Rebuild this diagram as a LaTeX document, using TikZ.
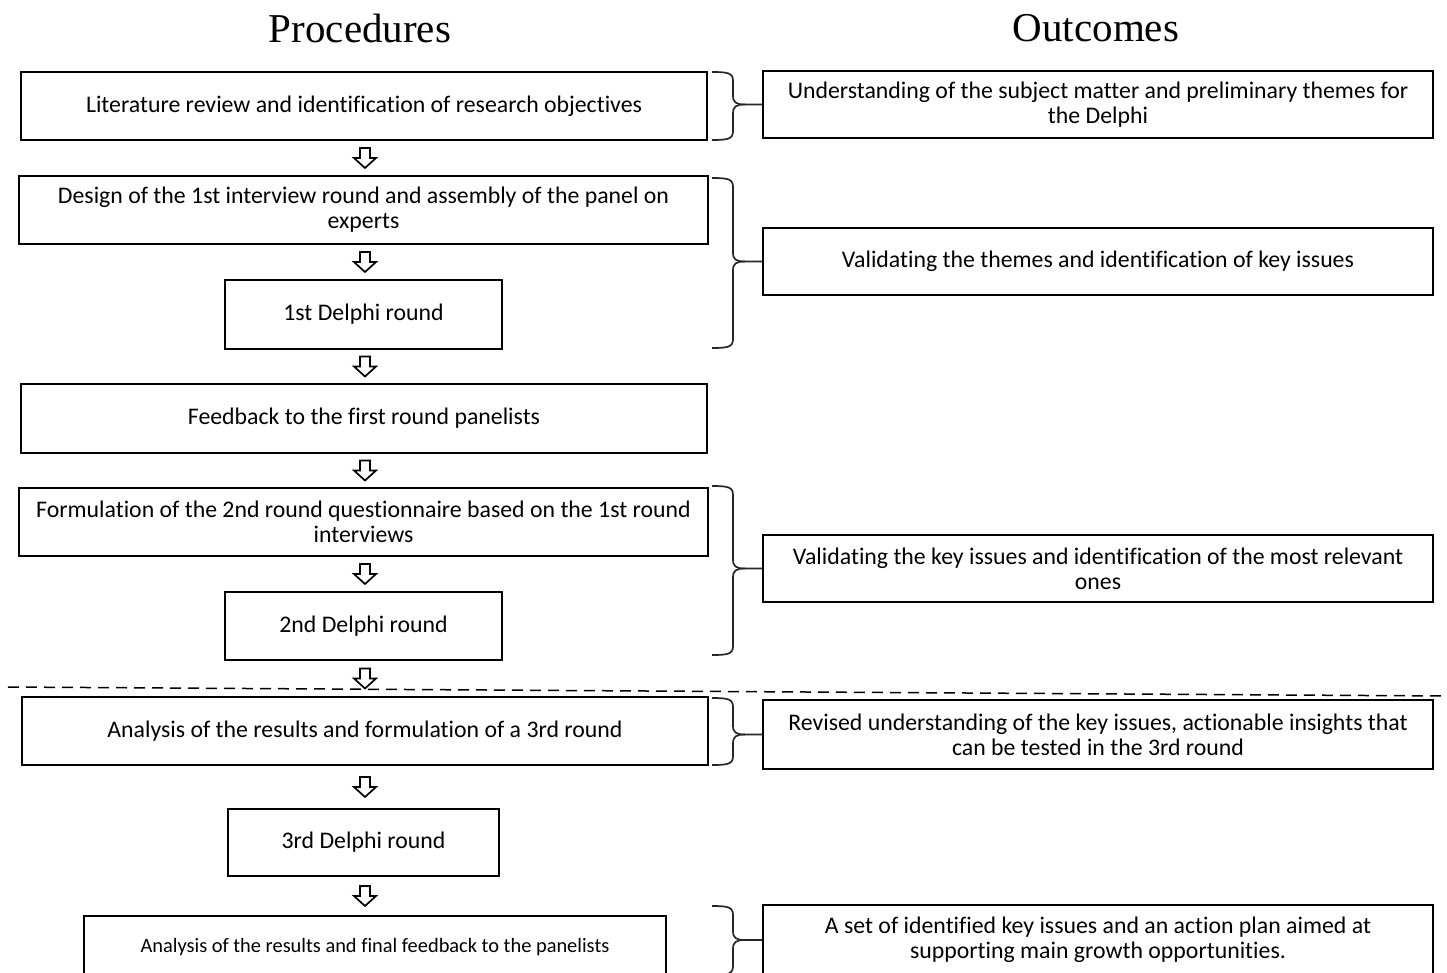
\documentclass[tikz,border=0pt]{standalone}
\usepackage{fontspec}
\setmainfont{Carlito}[Ligatures={NoCommon}]
\newfontfamily\titlefont{Liberation Serif}
\usetikzlibrary{calc}
\begin{document}
\begin{tikzpicture}[x=1pt,y=-1pt,
  box/.style={draw, line width=1.8pt, align=center, inner sep=0pt,
    font=\fontsize{23.8}{25}\selectfont},
  obox/.style={box, minimum width=670pt, minimum height=67pt},
  ttl/.style={font=\titlefont\fontsize{41}{44}\selectfont},
  brc/.style={line width=1.7pt, black!85},
  harrow/.pic={\draw[line width=1.7pt, line join=miter]
     (-5,-10) -- (5,-10) -- (5,0) -- (11,0) -- (0,10) -- (-11,0) -- (-5,0) -- cycle;}
]
\useasboundingbox (0,0) rectangle (1447,972);

\node[ttl] (tp) at (360,28) {Procedures};
\node[ttl] (to) at (1096,28) {Outcomes};

\node[box, minimum width=686pt, minimum height=68pt] (b1) at (364,106) {Literature review and identification of research objectives};
\node[box, minimum width=689pt, minimum height=68pt] (b2) at (363.5,210) {Design of the 1st interview round and assembly of the panel on\\experts};
\node[box, minimum width=277pt, minimum height=69pt] (b3) at (363.5,314.5) {1st Delphi round};
\node[box, minimum width=686pt, minimum height=69pt] (b4) at (364,418.5) {Feedback to the first round panelists};
\node[box, minimum width=689pt, minimum height=68pt] (b5) at (363.5,522) {Formulation of the 2nd round questionnaire based on the 1st round\\interviews};
\node[box, minimum width=277pt, minimum height=68pt] (b6) at (363.5,626) {2nd Delphi round};
\node[box, minimum width=686pt, minimum height=68pt] (b7) at (365,731) {Analysis of the results and formulation of a 3rd round};
\node[box, minimum width=271pt, minimum height=67pt] (b8) at (363.5,842.5) {3rd Delphi round};
\node[box, minimum width=582pt, minimum height=62pt, font=\fontsize{20.4}{22}\selectfont] (b9) at (375,947) {\raisebox{4pt}{Analysis of the results and final feedback to the panelists}};

\node[obox] (r1) at (1098,104.5) {Understanding of the subject matter and preliminary themes for\\the Delphi};
\node[obox] (r2) at (1098,261.5) {Validating the themes and identification of key issues};
\node[obox] (r3) at (1098,568.5) {Validating the key issues and identification of the most relevant\\ones};
\node[obox, minimum height=69pt] (r4) at (1098,734.5) {Revised understanding of the key issues, actionable insights that\\can be tested in the 3rd round};
\node[obox, minimum height=70pt] (r5) at (1098,940) {A set of identified key issues and an action plan aimed at\\supporting main growth opportunities.};

\coordinate (ax) at (365,0);
\foreach \u/\l in {b1/b2,b2/b3,b3/b4,b4/b5,b5/b6,b6/b7,b7/b8,b8/b9}{
  \path ($(\u.south)!0.5!(\l.north)$) coordinate (m-\u);
  \pic at (ax |- m-\u) {harrow};
}

\newcommand{\mybrace}[4]{%
  \draw[brc] (712,#1) .. controls (728,#1) and (733,#1+1) .. (733,#1+9)
    -- (733,#3-9) .. controls (733,#3-2) and (736,#3) .. (745,#3)
    -- (#4.west);
  \draw[brc] (745,#3) .. controls (736,#3) and (733,#3+2) .. (733,#3+9)
    -- (733,#2-9) .. controls (733,#2-1) and (728,#2) .. (712,#2);
}
\mybrace{72}{140}{104.5}{r1}
\mybrace{178}{348}{261.5}{r2}
\mybrace{486}{655}{568.5}{r3}
\mybrace{698}{765}{734.5}{r4}
\mybrace{906}{975}{940}{r5}

\coordinate (dl) at (8,687);
\coordinate (dr) at (1447,696);
\draw[line width=1.5pt, dash pattern=on 11pt off 7pt] (dl) -- (dr);
\end{tikzpicture}
\end{document}
